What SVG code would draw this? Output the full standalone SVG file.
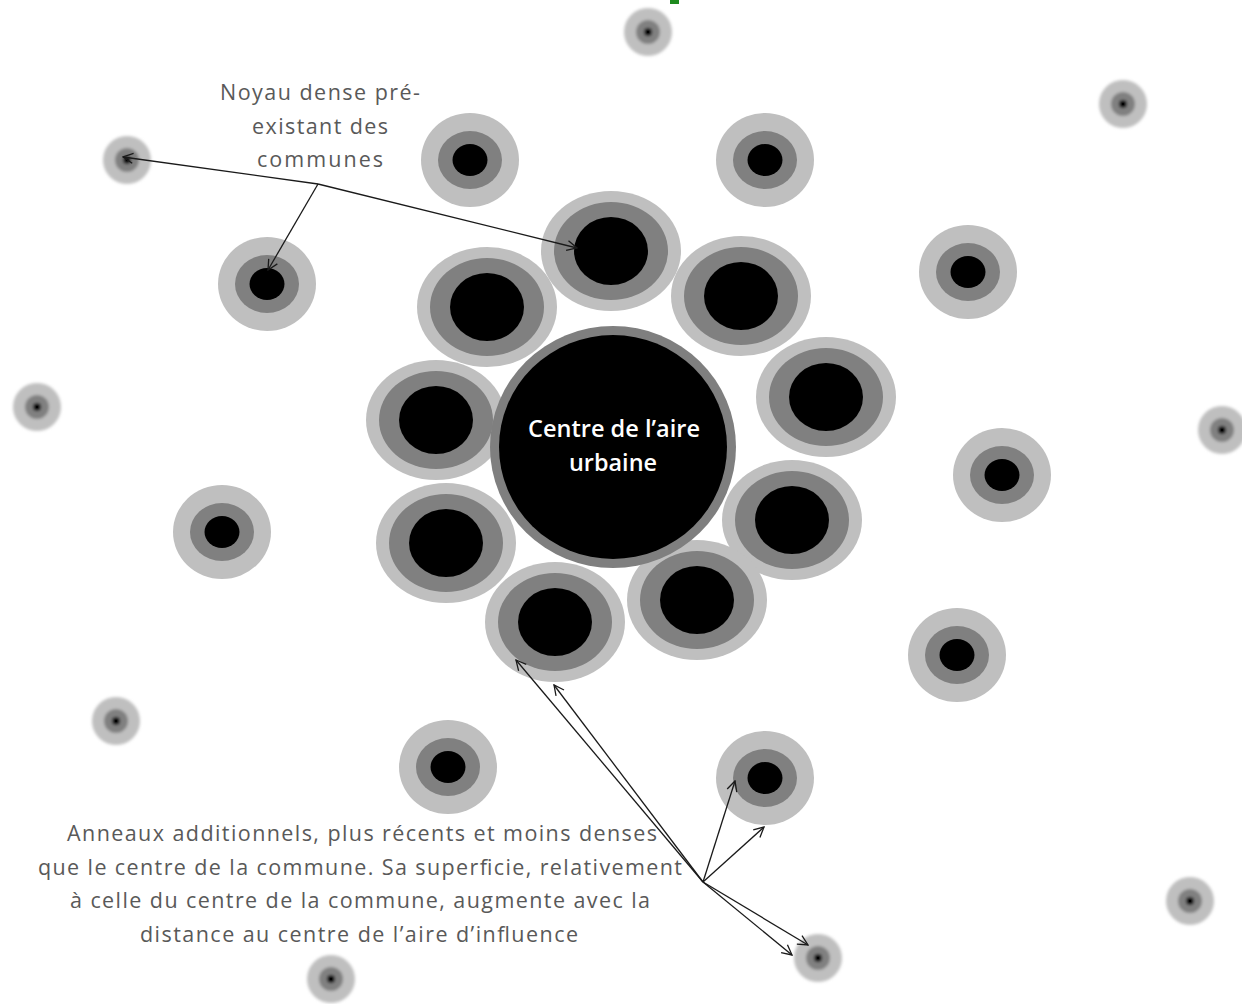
<svg xmlns="http://www.w3.org/2000/svg" width="1242" height="1004" viewBox="0 0 1242 1004">
<style>
.l{fill:#bfbfbf}.m{fill:#808080}.k{fill:#000}
.lbl{font-family:"Open Sans","Liberation Sans",sans-serif;font-size:21.5px;fill:#595959;text-anchor:middle}
.ctr{font-family:"Open Sans","Liberation Sans",sans-serif;font-size:23px;font-weight:600;fill:#fff;text-anchor:middle}
.a{stroke:#1a1a1a;stroke-width:1.3;fill:none;marker-end:url(#ah)}
</style>
<defs>
<marker id="ah" viewBox="0 0 12 12" refX="11" refY="6" markerWidth="12" markerHeight="12" markerUnits="userSpaceOnUse" orient="auto">
<path d="M1,1 L11,6 L1,11" fill="none" stroke="#1a1a1a" stroke-width="1.3"/>
</marker>
<filter id="bl" x="-30%" y="-30%" width="160%" height="160%"><feGaussianBlur stdDeviation="1.4"/></filter>
<g id="small" filter="url(#bl)"><circle r="24" class="l"/><circle r="12" class="m"/><circle r="4" class="k"/></g>
<g id="med"><ellipse rx="49" ry="47" class="l"/><ellipse rx="32" ry="29" class="m"/><ellipse rx="17.5" ry="16" class="k"/></g>
<g id="petal"><ellipse rx="70" ry="60" class="l"/><ellipse rx="57" ry="49" class="m"/><ellipse rx="37" ry="34" class="k"/></g>
</defs>
<rect width="1242" height="1004" fill="#fff"/>
<rect x="670" y="0" width="9" height="4" fill="#1f8a1f"/>
<g id="small-satellites">
<use href="#small" x="648" y="32"/>
<use href="#small" x="1123" y="104"/>
<use href="#small" x="127" y="160"/>
<use href="#small" x="37" y="407"/>
<use href="#small" x="1222" y="430"/>
<use href="#small" x="116" y="721"/>
<use href="#small" x="1190" y="901"/>
<use href="#small" x="818" y="958"/>
<use href="#small" x="331" y="979"/>
</g>
<g id="medium-satellites">
<use href="#med" x="470" y="160"/>
<use href="#med" x="765" y="160"/>
<use href="#med" x="267" y="284"/>
<use href="#med" x="968" y="272"/>
<use href="#med" x="222" y="532"/>
<use href="#med" x="1002" y="475"/>
<use href="#med" x="957" y="655"/>
<use href="#med" x="448" y="767"/>
<use href="#med" x="765" y="778"/>
</g>
<g id="petals">
<use href="#petal" x="611" y="251"/>
<use href="#petal" x="487" y="307"/>
<use href="#petal" x="741" y="296"/>
<use href="#petal" x="826" y="397"/>
<use href="#petal" x="436" y="420"/>
<use href="#petal" x="792" y="520"/>
<use href="#petal" x="446" y="543"/>
<use href="#petal" x="697" y="600"/>
<use href="#petal" x="555" y="622"/>
</g>
<g id="centre">
<ellipse cx="613" cy="447" rx="123" ry="121" fill="#7f7f7f"/>
<ellipse cx="613" cy="447" rx="114" ry="112" fill="#000"/>
<text class="ctr" x="614" y="437" textLength="172" lengthAdjust="spacingAndGlyphs">Centre de l’aire</text>
<text class="ctr" x="613" y="471" textLength="88" lengthAdjust="spacingAndGlyphs">urbaine</text>
</g>
<g id="connectors">
<path class="a" d="M318,184 L123,157"/>
<path class="a" d="M318,184 L577,248"/>
<path class="a" d="M318,184 L268,270"/>
<path class="a" d="M703,882 L516,660"/>
<path class="a" d="M703,882 L554,685"/>
<path class="a" d="M703,882 L735,781"/>
<path class="a" d="M703,882 L764,827"/>
<path class="a" d="M703,882 L808,945"/>
<path class="a" d="M703,882 L792,955"/>
</g>
<g id="label-noyau">
<text class="lbl" x="320" y="100" textLength="200" lengthAdjust="spacing">Noyau dense pré-</text>
<text class="lbl" x="320" y="134" textLength="136" lengthAdjust="spacing">existant des</text>
<text class="lbl" x="320" y="167" textLength="126" lengthAdjust="spacing">communes</text>
</g>
<g id="label-anneaux">
<text class="lbl" x="362" y="841" textLength="590" lengthAdjust="spacing">Anneaux additionnels, plus récents et moins denses</text>
<text class="lbl" x="360" y="875" textLength="644" lengthAdjust="spacing">que le centre de la commune. Sa superficie, relativement</text>
<text class="lbl" x="360" y="908" textLength="580" lengthAdjust="spacing">à celle du centre de la commune, augmente avec la</text>
<text class="lbl" x="359" y="942" textLength="438" lengthAdjust="spacing">distance au centre de l’aire d’influence</text>
</g>
</svg>
